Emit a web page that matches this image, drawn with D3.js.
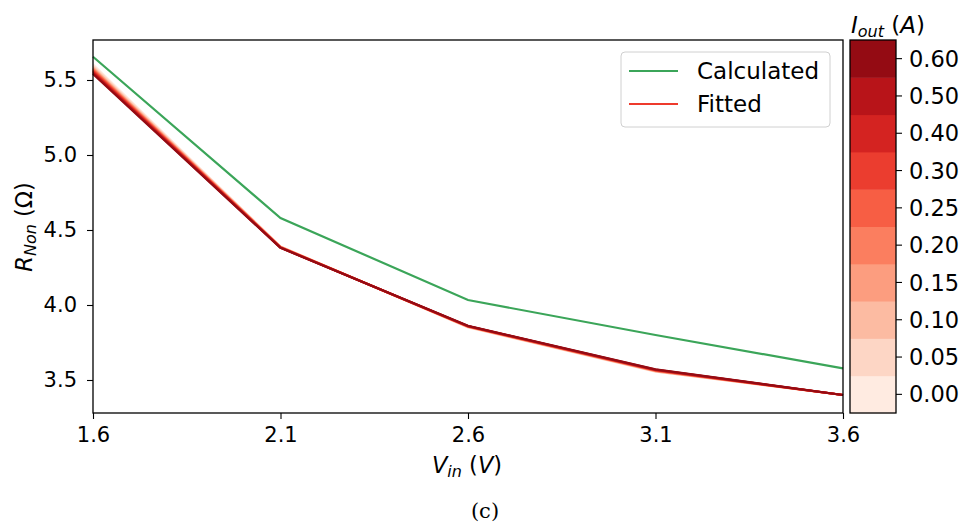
<!DOCTYPE html>
<html><head><meta charset="utf-8">
<script src="https://cdn.jsdelivr.net/npm/d3@7"></script>
<style>body{margin:0;background:#fff}svg{display:block}text{font-family:"DejaVu Sans",sans-serif}</style>
</head><body><svg id="c" width="967" height="529"></svg>
<script>
const vin = [1.6, 2.1, 2.6, 3.1, 3.6];
const calculated = [5.655, 4.58, 4.033, 3.80, 3.578];
const iout = [0.00, 0.05, 0.10, 0.15, 0.20, 0.25, 0.30, 0.40, 0.50, 0.60];
const fitted = [
  [5.605, 4.39, 3.850, 3.555, 3.40],
  [5.595, 4.39, 3.852, 3.557, 3.40],
  [5.585, 4.388, 3.853, 3.558, 3.40],
  [5.578, 4.387, 3.855, 3.560, 3.40],
  [5.572, 4.386, 3.856, 3.562, 3.40],
  [5.566, 4.385, 3.857, 3.563, 3.40],
  [5.560, 4.384, 3.858, 3.565, 3.40],
  [5.553, 4.383, 3.859, 3.567, 3.40],
  [5.546, 4.382, 3.860, 3.569, 3.40],
  [5.540, 4.381, 3.861, 3.571, 3.40]
];
const xTicks = [1.6, 2.1, 2.6, 3.1, 3.6];
const yTicks = [3.5, 4.0, 4.5, 5.0, 5.5];
const cbLabels = ["0.00","0.05","0.10","0.15","0.20","0.25","0.30","0.40","0.50","0.60"];

const svg = d3.select("#c");
const L = 93, R = 843, T = 40, B = 413;
const x = d3.scaleLinear().domain([1.6, 3.6]).range([L, R]);
const y = d3.scaleLinear().domain([5.5, 3.5]).range([80, 380]);
const green = "#3ba559", red = "#ee3a2c";
const color = i => d3.interpolateReds(0.06 + 0.094 * i);

const line = d3.line().x((d, i) => x(vin[i])).y(d => y(d));
const g = svg.append("g");
fitted.forEach((s, k) => {
  g.append("path").attr("d", line(s)).attr("fill", "none")
    .attr("stroke", color(k)).attr("stroke-width", 2.2).attr("stroke-linejoin", "round");
});
g.append("path").attr("d", line(calculated)).attr("fill", "none")
  .attr("stroke", green).attr("stroke-width", 2.2);

// frame
svg.append("rect").attr("x", L).attr("y", T).attr("width", R - L).attr("height", B - T)
  .attr("fill", "none").attr("stroke", "#000").attr("stroke-width", 1.3);

const xa = svg.append("g").attr("transform", `translate(0,${B})`)
  .call(d3.axisBottom(x).tickValues(xTicks).tickFormat(d3.format(".1f")).tickSize(6).tickSizeOuter(0));
const ya = svg.append("g").attr("transform", `translate(${L},0)`)
  .call(d3.axisLeft(y).tickValues(yTicks).tickFormat(d3.format(".1f")).tickSize(6).tickSizeOuter(0));
[xa, ya].forEach(a => {
  a.select(".domain").remove();
  a.selectAll("line").attr("stroke", "#000").attr("stroke-width", 1.1);
  a.selectAll("text").attr("font-size", 21).attr("fill", "#000").style("font-family", "DejaVu Sans");
});
xa.selectAll("text").attr("dy", null).attr("y", 29);
ya.selectAll("text").attr("x", -16);

// axis labels
const xl = svg.append("text").attr("x", 467).attr("y", 473).attr("text-anchor", "middle").attr("font-size", 22.5);
xl.append("tspan").attr("font-style", "italic").text("V");
xl.append("tspan").attr("font-style", "italic").attr("font-size", 16).attr("dy", 4).text("in");
xl.append("tspan").attr("dy", -4).text(" (");
xl.append("tspan").attr("font-style", "italic").text("V");
xl.append("tspan").text(")");

const yl = svg.append("text").attr("transform", "translate(32,227) rotate(-90)").attr("text-anchor", "middle").attr("font-size", 22.5);
yl.append("tspan").attr("font-style", "italic").text("R");
yl.append("tspan").attr("font-style", "italic").attr("font-size", 16).attr("dy", 4).text("Non");
yl.append("tspan").attr("dy", -4).text(" (Ω)");

// caption
svg.append("text").attr("x", 485).attr("y", 518).attr("text-anchor", "middle")
  .attr("font-size", 21).style("font-family", "DejaVu Serif").text("(c)");

// legend
const lg = svg.append("g");
lg.append("rect").attr("x", 621).attr("y", 52).attr("width", 209).attr("height", 75).attr("rx", 4)
  .attr("fill", "#fff").attr("fill-opacity", 0.8).attr("stroke", "#d0d0d0").attr("stroke-width", 1);
[["Calculated", green, 71], ["Fitted", red, 104]].forEach(([t, c, yy]) => {
  lg.append("line").attr("x1", 629).attr("x2", 678).attr("y1", yy).attr("y2", yy).attr("stroke", c).attr("stroke-width", 2.2);
  lg.append("text").attr("x", 697).attr("y", yy + 8).attr("font-size", 23).text(t);
});

// colorbar
const cbX = 850, cbW = 46, cbT = 40, cbB = 413;
const cb = d3.scaleBand().domain(d3.range(10)).range([cbB, cbT]).paddingInner(0).paddingOuter(0);
svg.append("g").selectAll("rect").data(d3.range(10)).join("rect")
  .attr("x", cbX).attr("y", d => cb(d)).attr("width", cbW).attr("height", cb.bandwidth() + 0.5)
  .attr("fill", d => color(d));
svg.append("rect").attr("x", cbX).attr("y", cbT).attr("width", cbW).attr("height", cbB - cbT)
  .attr("fill", "none").attr("stroke", "#000").attr("stroke-width", 1.3);
const cbt = svg.append("g").selectAll("g").data(d3.range(10)).join("g")
  .attr("transform", d => `translate(${cbX + cbW},${cb(d) + cb.bandwidth() / 2})`);
cbt.append("line").attr("x2", 6).attr("stroke", "#000").attr("stroke-width", 1.1);
cbt.append("text").attr("x", 13).attr("dy", "0.36em").attr("font-size", 22.5).text(d => cbLabels[d]);

const ct = svg.append("text").attr("x", 851).attr("y", 33).attr("font-size", 23);
ct.append("tspan").attr("font-style", "italic").text("I");
ct.append("tspan").attr("font-style", "italic").attr("font-size", 16).attr("dy", 4).text("out");
ct.append("tspan").attr("dy", -4).text(" (");
ct.append("tspan").attr("font-style", "italic").text("A");
ct.append("tspan").text(")");
</script></body></html>
